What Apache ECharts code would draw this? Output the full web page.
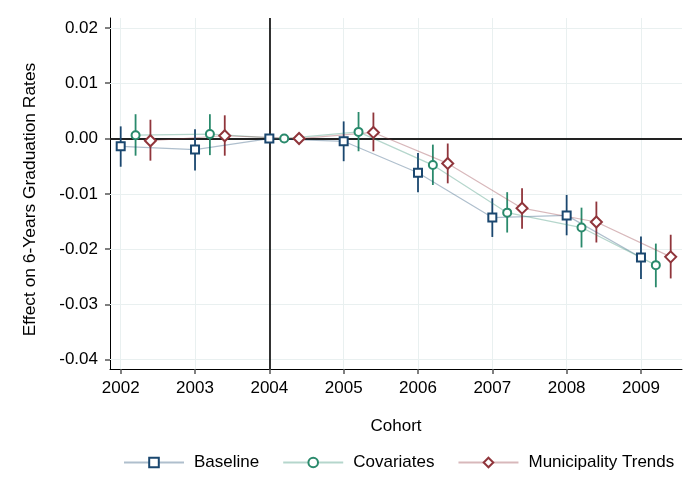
<!DOCTYPE html>
<html><head><meta charset="utf-8">
<script src="https://cdn.jsdelivr.net/npm/echarts@6/dist/echarts.min.js"></script>
<style>html,body{margin:0;padding:0;background:#fff}#c{width:700px;height:500px}</style>
</head><body><div id="c"></div>
<script>
const years = [2002, 2003, 2004, 2005, 2006, 2007, 2008, 2009];
const yTicks = [-0.04, -0.03, -0.02, -0.01, 0, 0.01, 0.02];

const baseline   = [-0.0014, -0.0020, 0, -0.0005, -0.0062, -0.0143, -0.0139, -0.0215];
const baselineLo = [-0.0051, -0.0058, 0, -0.0041, -0.0097, -0.0178, -0.0175, -0.0254];
const baselineHi = [ 0.0022,  0.0017, 0,  0.0031, -0.0026, -0.0108, -0.0102, -0.0177];

const covariates   = [ 0.0006,  0.0008, 0,  0.0012, -0.0048, -0.0134, -0.0161, -0.0229];
const covariatesLo = [-0.0031, -0.0030, 0, -0.0023, -0.0084, -0.0170, -0.0197, -0.0269];
const covariatesHi = [ 0.0044,  0.0044, 0,  0.0048, -0.0011, -0.0097, -0.0125, -0.0190];

const municipality   = [-0.0004,  0.0005, 0,  0.0011, -0.0045, -0.0126, -0.0151, -0.0214];
const municipalityLo = [-0.0040, -0.0031, 0, -0.0023, -0.0081, -0.0163, -0.0188, -0.0253];
const municipalityHi = [ 0.0034,  0.0042, 0,  0.0047, -0.0009, -0.0090, -0.0114, -0.0174];

const seriesNames = ['Baseline', 'Covariates', 'Municipality Trends'];

const FONT = 'Liberation Sans, Arial, sans-serif';
const defs = [
  {name: seriesNames[0], v: baseline, lo: baselineLo, hi: baselineHi, color: '#1a476f', line: 'rgba(26,71,111,0.35)', symbol: 'rect', size: 8, off: 0},
  {name: seriesNames[1], v: covariates, lo: covariatesLo, hi: covariatesHi, color: '#2a8a6c', line: 'rgba(42,138,108,0.35)', symbol: 'circle', size: 8, off: 0.2},
  {name: seriesNames[2], v: municipality, lo: municipalityLo, hi: municipalityHi, color: '#90353b', line: 'rgba(144,53,59,0.35)', symbol: 'diamond', size: 11, off: 0.4}
];

const series = [];
// grid + reference lines
series.push({
  type: 'line', name: 'ref', data: [], silent: true, z: 1,
  markLine: {
    silent: true, symbol: 'none', z: 1, animation: false,
    label: {show: false},
    data: [
      ...years.map(y => ({xAxis: y, lineStyle: {color: '#e9f0f0', width: 1, type: 'solid'}})),
      ...yTicks.filter(t => t !== 0).map(t => ({yAxis: t, lineStyle: {color: '#e9f0f0', width: 1, type: 'solid'}})),
      {xAxis: 2004, lineStyle: {color: '#000', width: 1.6, type: 'solid'}},
      {yAxis: 0, lineStyle: {color: '#222', width: 2, type: 'solid'}}
    ]
  }
});
defs.forEach(d => {
  series.push({
    type: 'custom', name: d.name + ' CI', z: 5, silent: true,
    encode: {x: 0, y: [1, 2]},
    data: years.map((y, i) => [y + d.off, d.lo[i], d.hi[i]]),
    renderItem: (params, api) => {
      const p1 = api.coord([api.value(0), api.value(1)]);
      const p2 = api.coord([api.value(0), api.value(2)]);
      return {type: 'line', shape: {x1: p1[0], y1: p1[1], x2: p2[0], y2: p2[1]},
              style: {stroke: d.color, lineWidth: 1.8}};
    }
  });
});
defs.forEach(d => {
  series.push({
    type: 'line', name: d.name, z: 10,
    data: years.map((y, i) => [y + d.off, d.v[i]]),
    symbol: d.symbol, symbolSize: d.size, showSymbol: true,
    lineStyle: {color: d.line, width: 1.2},
    itemStyle: {color: '#fff', borderColor: d.color, borderWidth: 2},
    emphasis: {disabled: true}
  });
});

const chart = echarts.init(document.getElementById('c'), null, {renderer: 'canvas'});
chart.setOption({
  animation: false,
  backgroundColor: '#fff',
  textStyle: {fontFamily: FONT},
  grid: {left: 110, right: 18, top: 18, bottom: 131, containLabel: false},
  legend: {
    data: seriesNames, left: 118, top: 449,
    itemWidth: 60, itemHeight: 12, itemGap: 23,
    textStyle: {fontFamily: FONT, fontSize: 17, color: '#000', padding: [0, 0, 0, 5]}
  },
  xAxis: {
    type: 'value', min: 2001.856, max: 2009.552,
    name: 'Cohort', nameLocation: 'middle', nameGap: 49,
    nameTextStyle: {fontFamily: FONT, fontSize: 17, color: '#000'},
    axisLine: {show: true, onZero: false, lineStyle: {color: '#000', width: 1}},
    axisTick: {show: true, customValues: years, length: 5, lineStyle: {color: '#555', width: 1.5}},
    axisLabel: {customValues: years, formatter: v => String(Math.round(v)), fontFamily: FONT, fontSize: 17, color: '#000', margin: 11},
    splitLine: {show: false}
  },
  yAxis: {
    type: 'value', min: -0.04168, max: 0.0218,
    name: 'Effect on 6-Years Graduation Rates', nameLocation: 'middle', nameGap: 71, nameRotate: 90,
    nameTextStyle: {fontFamily: FONT, fontSize: 17.4, color: '#000', padding: [0, 12, 0, 0]},
    axisLine: {show: true, onZero: false, lineStyle: {color: '#000', width: 1}},
    axisTick: {show: true, customValues: yTicks, length: 5, lineStyle: {color: '#555', width: 1.5}},
    axisLabel: {customValues: yTicks, formatter: v => v.toFixed(2), fontFamily: FONT, fontSize: 17, color: '#000', margin: 12},
    splitLine: {show: false}
  },
  series: series
});
</script></body></html>
